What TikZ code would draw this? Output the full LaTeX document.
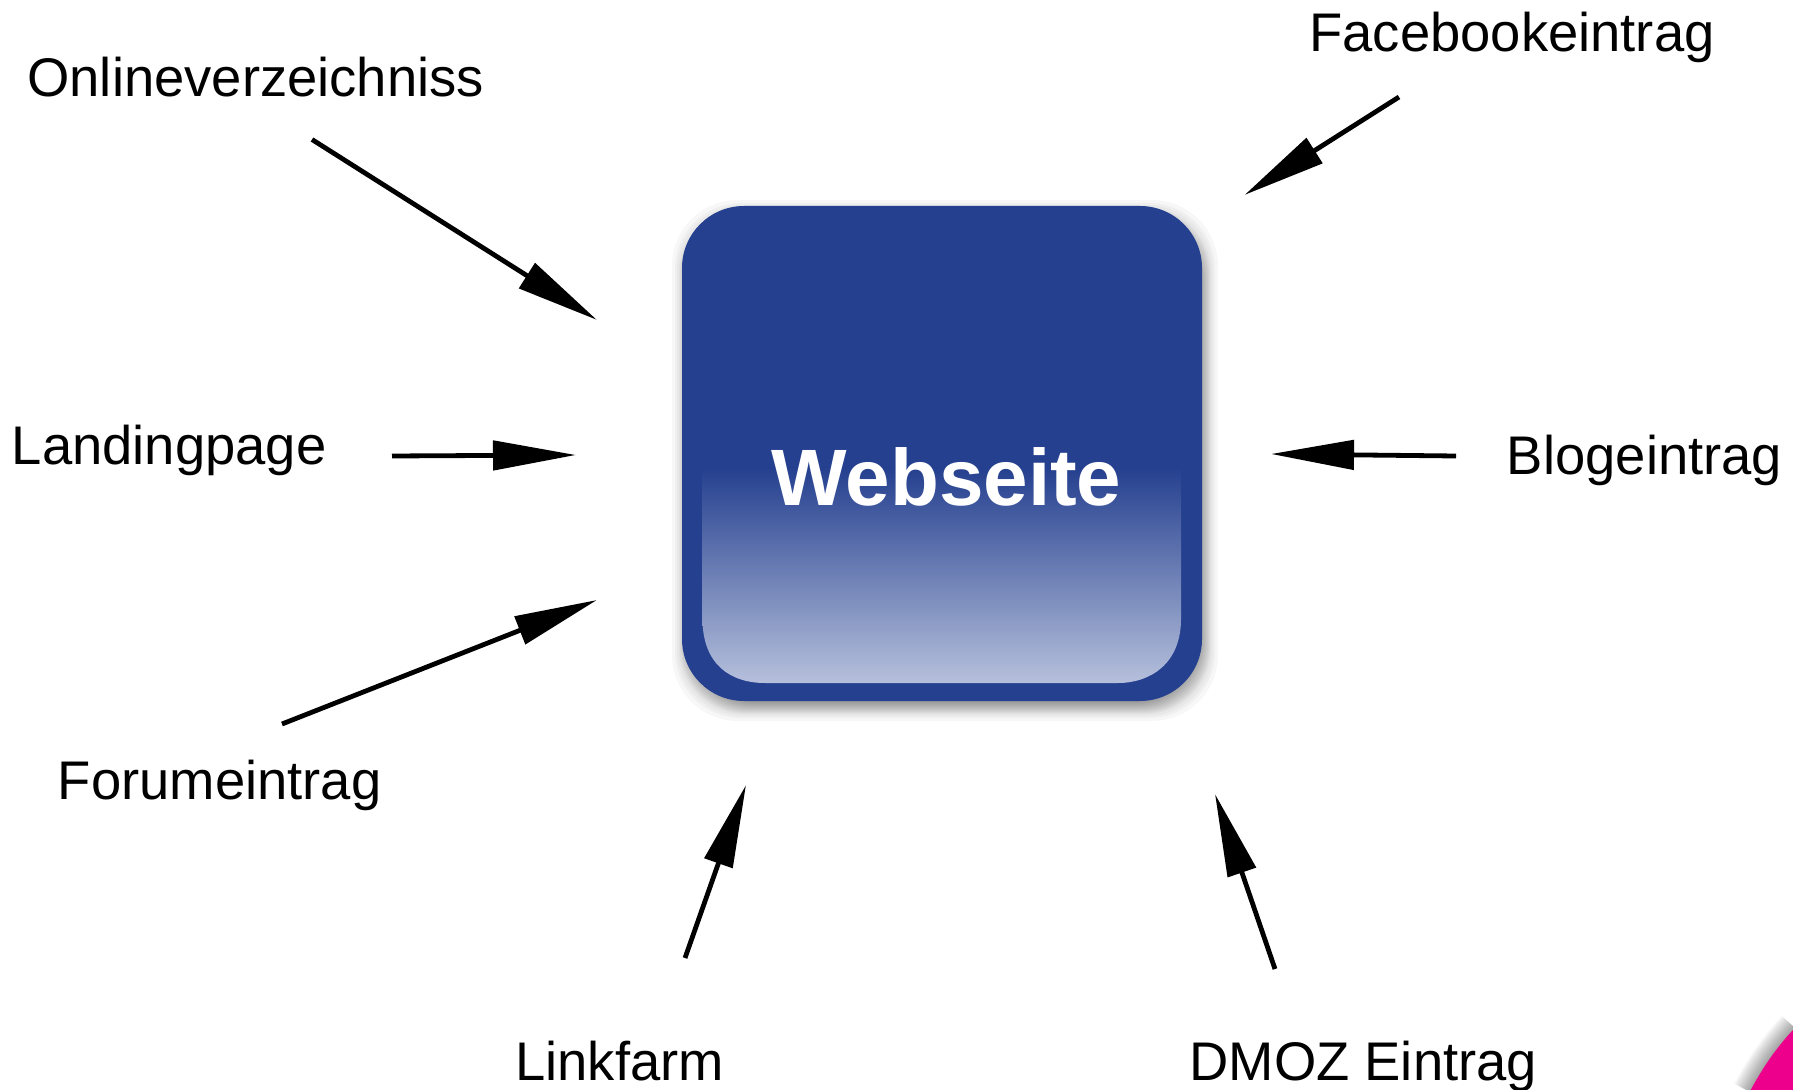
\documentclass[tikz,border=0pt]{standalone}
\usepackage{fontspec}
\setmainfont{Liberation Sans}
\usetikzlibrary{arrows.meta}
\definecolor{boxblue}{RGB}{37,64,143}
\definecolor{boxlight}{RGB}{182,192,220}
\definecolor{hotpink}{RGB}{236,0,140}
\tikzset{
  lab/.style={anchor=base west,inner sep=0pt,font=\fontsize{27.2pt}{32pt}\selectfont},
  arr/.style={line width=2.4pt,-{Triangle[length=41.5pt,width=14.5pt]},line cap=butt},
  boxoutline/.style={rounded corners=31pt}
}
\begin{document}
\begin{tikzpicture}[x=0.5pt,y=-0.5pt]
\useasboundingbox (0,0) rectangle (1793,1090);
\begin{scope}
\clip (0,0) rectangle (1793,1090);
% shadow of the corner shape
\foreach \i in {1,...,18}{
  \draw[black,opacity=.025,line width=\i*1pt]
    (1795,1028) .. controls (1778,1046) and (1763,1067) .. (1750,1092);
}
\fill[hotpink] (1793,1030) .. controls (1777,1047) and (1763,1067) .. (1750.7,1090) -- (1793,1090) -- cycle;
% shadow of the box
\foreach \i in {-13,-10,-8,-6,-5,-4,-3,-2,-1,0,1,2,3,4,5,6,8,10,13}{
  \fill[black,opacity=.032,rounded corners=33pt] (685-\i,213-\i) rectangle (1205+\i,708+\i);
}
\end{scope}
% box
\fill[boxblue,boxoutline] (682,206) rectangle (1202,701);
\shade[top color=boxblue,bottom color=boxlight,shading angle=0]
  (702.5,468) -- (1181,468) -- (1181,619) .. controls (1181,664) and (1150,683) .. (1118,683)
  -- (765,683) .. controls (730,683) and (702.5,664) .. (702.5,619) -- cycle;
\node[anchor=base,inner sep=0pt,text=white,font=\fontsize{40pt}{46pt}\selectfont\bfseries] (web) at (946.5,505.5) {Webseite};
% labels
\node[lab] (online) at (27,97) {Onlineverzeichniss};
\node[lab] (face) at (1309,51.5) {Facebookeintrag};
\node[lab] (land) at (11.5,464.5) {Landingpage};
\node[lab] (blog) at (1506.5,474.5) {Blogeintrag};
\node[lab] (forum) at (57.5,799.5) {Forumeintrag};
\node[lab] (link) at (515,1080) {Linkfarm};
\node[lab] (dmoz) at (1189,1080) {DMOZ Eintrag};
% arrow ends
\coordinate (a1) at (312,139.5);  \coordinate (b1) at (597,320);
\coordinate (a2) at (1399,97);    \coordinate (b2) at (1244.5,195);
\coordinate (a3) at (392,456);    \coordinate (b3) at (576,455);
\coordinate (a4) at (1456,456);   \coordinate (b4) at (1271,454);
\coordinate (a5) at (282,724);    \coordinate (b5) at (597,600);
\coordinate (a6) at (685,958);    \coordinate (b6) at (746,785);
\coordinate (a7) at (1275,969);   \coordinate (b7) at (1215,794);
\foreach \k in {1,...,7}{\draw[arr] (a\k) -- (b\k);}
\end{tikzpicture}
\end{document}
